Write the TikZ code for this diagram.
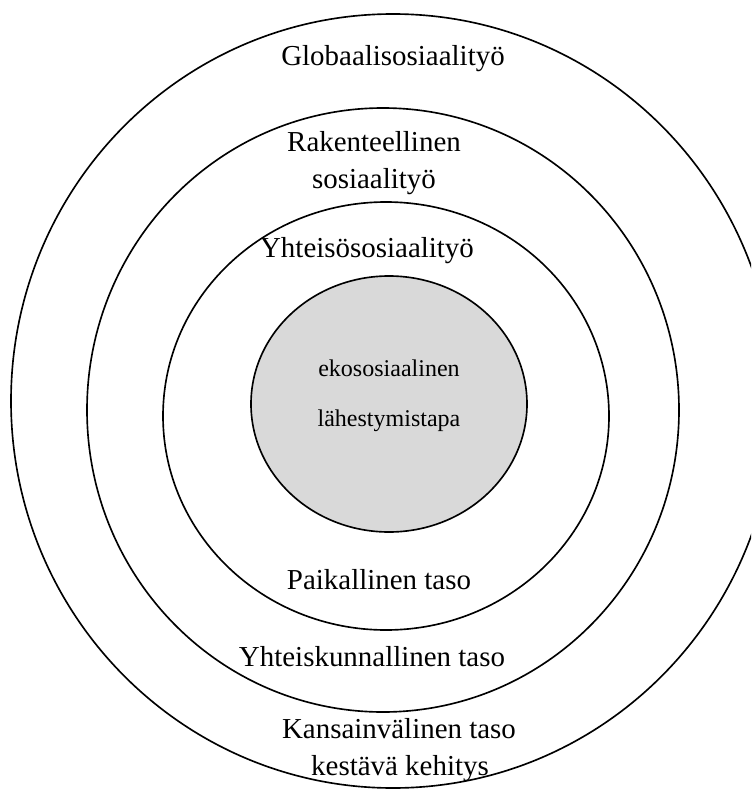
\documentclass[tikz,border=0pt]{standalone}
\usepackage{fontspec}
\setmainfont{Liberation Serif}
\tikzset{
  ring/.style={line width=1.4pt},
  bigtext/.style={anchor=base, inner sep=0pt, font=\fontsize{24.7}{30}\selectfont},
  smalltext/.style={anchor=base, inner sep=0pt, font=\fontsize{20.5}{25}\selectfont}
}
\begin{document}
\begin{tikzpicture}[x=0.03cm, y=-0.03cm]

\useasboundingbox (0,0) rectangle (751,790);
\clip (0,0) rectangle (751,790);

\coordinate (c1) at (393,401);
\coordinate (c2) at (383,410);
\coordinate (c3) at (386,416);
\coordinate (c4) at (389,404);

\draw[ring] (c1) ellipse [x radius=382, y radius=387];
\draw[ring] (c2) ellipse [x radius=296, y radius=302];
\draw[ring] (c3) ellipse [x radius=223, y radius=214];
\draw[ring, fill={rgb,255:red,217;green,217;blue,217}] (c4) ellipse [x radius=138, y radius=128];

\node [bigtext] (glob) at (393,66) {Globaalisosiaalityö};
\node [bigtext] (rak) at (374,151) {Rakenteellinen};
\node [bigtext] (sos) at (374,188) {sosiaalityö};
\node [bigtext] (yht) at (367,257) {Yhteisösosiaalityö};

\node [smalltext] (eko) at (389,376) {ekososiaalinen};
\node [smalltext] (lah) at (389,426) {lähestymistapa};

\node [bigtext] (paik) at (379,589) {Paikallinen taso};
\node [bigtext] (yhtk) at (372,666) {Yhteiskunnallinen taso};
\node [bigtext] (kans) at (399,738) {Kansainvälinen taso};
\node [bigtext] (kest) at (400,775) {kestävä kehitys};

\end{tikzpicture}
\end{document}
